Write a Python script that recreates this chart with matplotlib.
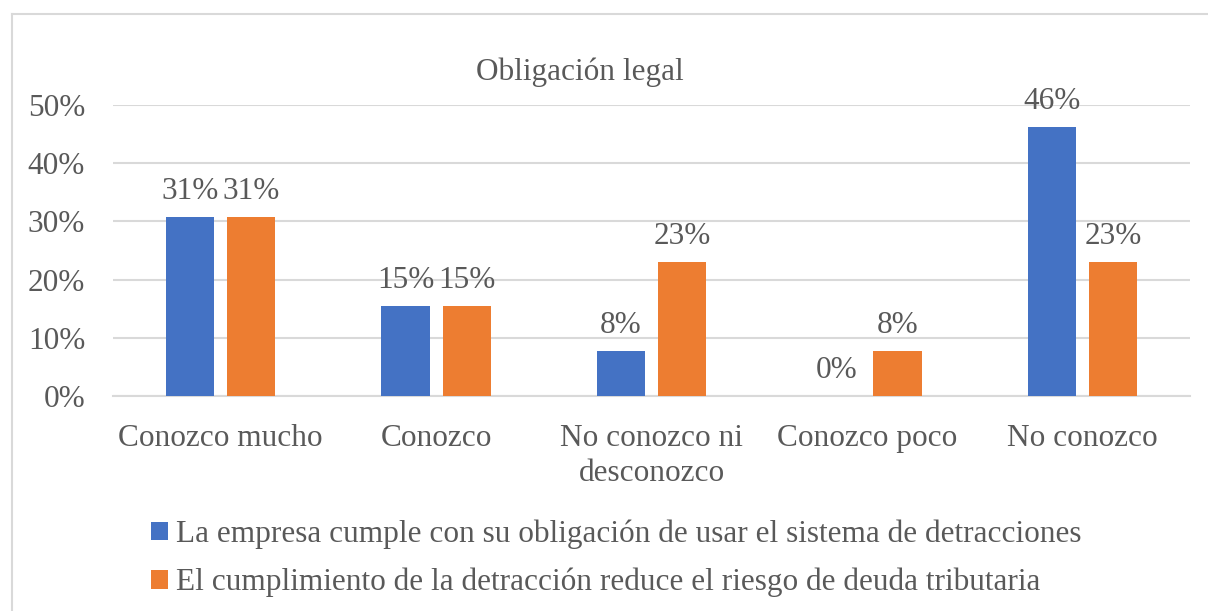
import matplotlib.pyplot as plt
from matplotlib.lines import Line2D
import numpy as np

categories = ["Conozco mucho", "Conozco", "No conozco ni\ndesconozco", "Conozco poco", "No conozco"]
cumple = [4/13, 2/13, 1/13, 0.0, 6/13]
reduce = [4/13, 2/13, 3/13, 1/13, 3/13]
series_names = ["La empresa cumple con su obligación de usar el sistema de detracciones",
                "El cumplimiento de la detracción reduce el riesgo de deuda tributaria"]
yticks = [0, 0.1, 0.2, 0.3, 0.4, 0.5]

plt.rcParams['font.family'] = ['Liberation Serif', 'DejaVu Serif']
gray = '#595959'
grid = '#D9D9D9'
fs = 22.5

fig = plt.figure(figsize=(12.08, 6.11), dpi=100)
# chart frame: only top and left edges visible in the crop
fy = 1 - 13.5/611
fx = 11.5/1208
fig.add_artist(Line2D([fx, 1], [fy, fy], transform=fig.transFigure, color=grid, lw=1.5))
fig.add_artist(Line2D([fx, fx], [0, fy], transform=fig.transFigure, color=grid, lw=1.5))

ax = fig.add_axes([113/1208, 1 - 396/611, 1077/1208, 291/611])

x = np.arange(len(categories))
w = 0.223
off = 0.142
b1 = ax.bar(x - off, cumple, w, color='#4472C4', label=series_names[0], zorder=3)
b2 = ax.bar(x + off, reduce, w, color='#ED7D31', label=series_names[1], zorder=3)

for bars, vals in ((b1, cumple), (b2, reduce)):
    for rect, v in zip(bars, vals):
        ax.annotate(f"{v*100:.0f}%", (rect.get_x() + rect.get_width()/2, v),
                    xytext=(0, 8), textcoords='offset points',
                    ha='center', va='bottom', fontsize=fs, color=gray)

ax.set_xlim(-0.5, len(categories) - 0.5)
ax.set_ylim(0, 0.5)
ax.set_yticks(yticks)
ax.set_yticklabels([f"{t*100:.0f}%" for t in yticks], fontsize=fs, color=gray)
ax.set_xticks(x)
ax.set_xticklabels(categories, fontsize=fs, color=gray, linespacing=1.3)
ax.tick_params(axis='both', length=0)
ax.tick_params(axis='y', pad=20)
ax.tick_params(axis='x', pad=20)
ax.grid(axis='y', color=grid, linewidth=1.5, zorder=0)
for s in ['top', 'right', 'left']:
    ax.spines[s].set_visible(False)
ax.spines['bottom'].set_color(grid)
ax.spines['bottom'].set_linewidth(1.5)

fig.text(580/1208, 1 - 72/611, "Obligación legal", ha='center', va='center',
         fontsize=fs, color=gray)

leg = fig.legend(handles=[b1, b2], loc='upper left',
                 bbox_to_anchor=(138/1208, 1 - 507/611), frameon=False,
                 fontsize=fs, handlelength=0.55, handleheight=0.55,
                 handletextpad=0.25, labelspacing=0.6, borderaxespad=0)
for t in leg.get_texts():
    t.set_color(gray)

fig.savefig("out.png", dpi=100)
